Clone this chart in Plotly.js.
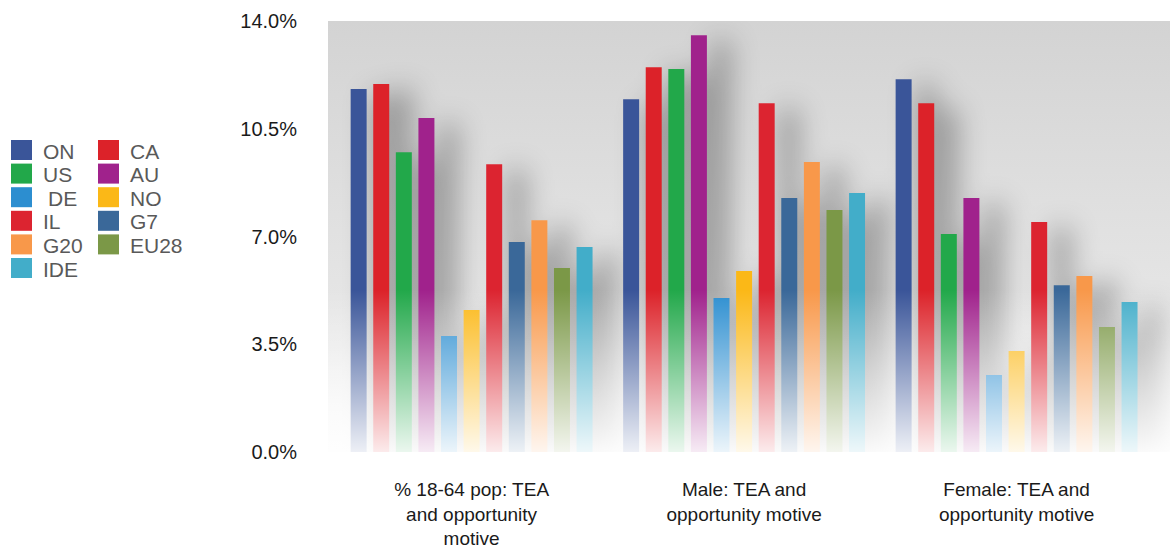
<!DOCTYPE html>
<html>
<head>
<meta charset="utf-8">
<script src="https://cdn.plot.ly/plotly-3.0.1.min.js"></script>
<style>html,body{margin:0;padding:0;background:#fff;}#chart{width:1175px;height:550px;}
#chart .barlayer{filter:drop-shadow(22px 6px 14px rgba(0,0,0,0.38));}</style>
</head>
<body>
<div id="chart"></div>
<script>
// ---- data ----
const categories = ['% 18-64 pop: TEA<br>and opportunity<br>motive', 'Male: TEA and<br>opportunity motive', 'Female: TEA and<br>opportunity motive'];
const seriesNames = ['ON', 'CA', 'US', 'AU', 'DE', 'NO', 'IL', 'G7', 'G20', 'EU28', 'IDE'];
const seriesColors = ['#3a5599', '#dc2229', '#22a84a', '#a0228c', '#2c8ed0', '#fbb817', '#dc2430', '#3a6899', '#f8984a', '#7b9847', '#42adc9'];
const ON   = [11.79, 11.46, 12.11];
const CA   = [11.95, 12.50, 11.33];
const US   = [9.74, 12.44, 7.08];
const AU   = [10.85, 13.54, 8.25];
const DE   = [3.77, 5.00, 2.50];
const NO   = [4.61, 5.88, 3.28];
const IL   = [9.35, 11.33, 7.47];
const G7   = [6.82, 8.25, 5.42];
const G20  = [7.53, 9.42, 5.72];
const EU28 = [5.98, 7.86, 4.06];
const IDE  = [6.66, 8.41, 4.87];
const seriesValues = [ON, CA, US, AU, DE, NO, IL, G7, G20, EU28, IDE];
const yTicks = [0, 3.5, 7, 10.5, 14];
const yTickLabels = ['0.0%', '3.5%', '7.0%', '10.5%', '14.0%'];

// ---- layout geometry (pixels) ----
const W = 1175, H = 550;
const M = {l: 328, r: 5, t: 21, b: 98};
const PW = W - M.l - M.r, PH = H - M.t - M.b;
const px2x = p => (p - M.l) / PW;
const py2y = p => (H - M.b - p) / PH;

const traces = seriesNames.map((name, i) => ({
  type: 'bar',
  name: name,
  x: categories,
  y: seriesValues[i],
  marker: {color: seriesColors[i], line: {width: 0}},
  showlegend: false,
  hoverinfo: 'x+y+name'
}));

function svgUri(svg) { return 'data:image/svg+xml;charset=utf-8,' + encodeURIComponent(svg); }
const bgSvg = '<svg xmlns="http://www.w3.org/2000/svg" width="100" height="100" viewBox="0 0 100 100" preserveAspectRatio="none">' +
  '<defs><linearGradient id="g" x1="0" y1="0" x2="0" y2="1">' +
  '<stop offset="0" stop-color="#d3d3d3"/><stop offset="0.45" stop-color="#e0e0e0"/><stop offset="0.75" stop-color="#e8e8e8"/><stop offset="1" stop-color="#f6f6f6"/>' +
  '</linearGradient></defs><rect x="0" y="0" width="100" height="100" fill="url(#g)"/></svg>';
const fadeSvg = '<svg xmlns="http://www.w3.org/2000/svg" width="100" height="100" viewBox="0 0 100 100" preserveAspectRatio="none">' +
  '<defs><linearGradient id="f" x1="0" y1="0" x2="0" y2="1">' +
  '<stop offset="0" stop-color="#ffffff" stop-opacity="0"/><stop offset="1" stop-color="#ffffff" stop-opacity="0.91"/>' +
  '</linearGradient></defs><rect x="0" y="0" width="100" height="100" fill="url(#f)"/></svg>';

const fadeTop = py2y(290);

// legend built from series arrays
const shapes = [], annotations = [];
seriesNames.forEach((name, i) => {
  const col = i % 2, row = Math.floor(i / 2);
  const sx = col === 0 ? 11 : 98;
  const cy = 150 + row * 23.6;
  shapes.push({type: 'rect', xref: 'paper', yref: 'paper',
    x0: px2x(sx), x1: px2x(sx + 21), y0: py2y(cy - 10), y1: py2y(cy + 10),
    fillcolor: seriesColors[i], line: {width: 0}});
  annotations.push({xref: 'paper', yref: 'paper', x: px2x(sx + 30 + (name === 'DE' ? 5 : 0)), y: py2y(cy + 1),
    xanchor: 'left', yanchor: 'middle', showarrow: false, text: name,
    font: {family: 'Liberation Sans, Arial, sans-serif', size: 21, color: '#595959'}});
});

const layout = {
  width: W, height: H,
  margin: M,
  paper_bgcolor: '#ffffff',
  plot_bgcolor: 'rgba(0,0,0,0)',
  showlegend: false,
  barmode: 'group',
  bargap: 0.088,
  bargroupgap: 0.292,
  font: {family: 'Liberation Sans, Arial, sans-serif', color: '#222'},
  xaxis: {
    type: 'category',
    range: [-0.527, 2.563],
    showgrid: false, zeroline: false, showline: false, ticks: '',
    ticklabelstandoff: 24,
    tickfont: {size: 19, color: '#1a1a1a'}
  },
  yaxis: {
    range: [0, 14],
    tickvals: yTicks,
    ticktext: yTickLabels,
    showgrid: false, zeroline: false, showline: false, ticks: '',
    ticklabelstandoff: 30,
    tickfont: {size: 20, color: '#1a1a1a'}
  },
  images: [
    {source: svgUri(bgSvg), xref: 'paper', yref: 'paper', x: 0, y: 1, sizex: 1, sizey: 1,
     sizing: 'stretch', xanchor: 'left', yanchor: 'top', layer: 'below'},
    {source: svgUri(fadeSvg), xref: 'paper', yref: 'paper', x: 0, y: fadeTop, sizex: 1, sizey: fadeTop,
     sizing: 'stretch', xanchor: 'left', yanchor: 'top', layer: 'above'}
  ],
  shapes: shapes,
  annotations: annotations
};

Plotly.newPlot('chart', traces, layout, {displayModeBar: false, staticPlot: true});
</script>
</body>
</html>
